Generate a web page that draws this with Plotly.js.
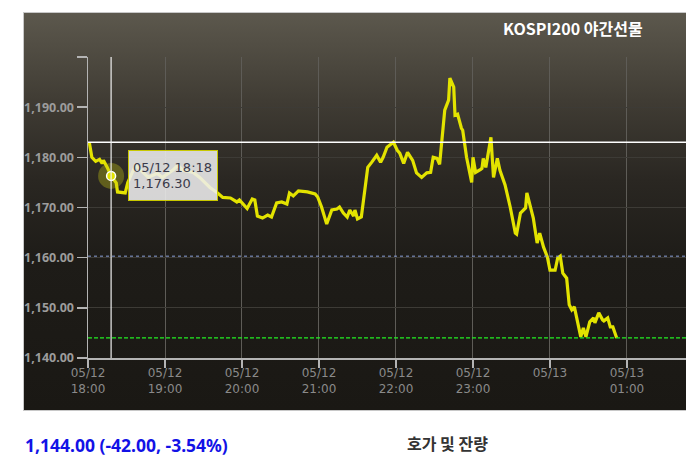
<!DOCTYPE html>
<html>
<head>
<meta charset="utf-8">
<script src="https://cdn.plot.ly/plotly-3.0.1.min.js"></script>
<style>
  html, body { margin:0; padding:0; background:#ffffff; }
  #wrap { position:relative; width:686px; height:460px; overflow:hidden; }
  #bg { position:absolute; left:23px; top:12px; width:663px; height:397px;
        border-top:1px solid #c8c8c8; border-left:1px solid #c8c8c8; border-bottom:1px solid #c8c8c8;
        background:linear-gradient(to bottom, #5c584d 0%, #403c34 22%, #2a2722 42%, #1e1c18 62%, #1a1814 100%); }
  #chart { position:absolute; left:0; top:0; width:686px; height:460px; }
</style>
</head>
<body>
<div id="wrap">
  <div id="bg"></div>
  <div id="chart"></div>
</div>
<script>
// ---- data ----
const times = ["18:01","18:03","18:06","18:09","18:11","18:12","18:15","18:18","18:22","18:23",
  "18:29","18:31","18:37","18:41","18:47","18:54","18:58","19:06","19:10","19:14",
  "19:22","19:27","19:35","19:41","19:45","19:51","19:56","19:58","20:04","20:08",
  "20:10","20:12","20:16","20:20","20:23","20:27","20:31","20:35","20:37","20:40",
  "20:44","20:51","20:57","20:59","21:02","21:06","21:10","21:14","21:16","21:19",
  "21:22","21:24","21:27","21:28","21:30","21:33","21:38","21:41","21:45","21:48",
  "21:50","21:53","21:55","21:58","22:01","22:03","22:06","22:09","22:13","22:16",
  "22:20","22:24","22:27","22:29","22:32","22:34","22:38","22:41","22:42","22:45",
  "22:46","22:48","22:51","22:52","22:55","22:59","23:00","23:02","23:06","23:07",
  "23:08","23:10","23:14","23:16","23:19","23:21","23:25","23:29","23:33","23:34",
  "23:37","23:41","23:42","23:45","23:47","23:50","23:52","23:55","23:58","00:00",
  "00:04","00:06","00:08","00:10","00:13","00:15","00:17","00:19","00:22","00:24",
  "00:26","00:28","00:31","00:34","00:35","00:38","00:41","00:42","00:45","00:47",
  "00:49","00:52"];
const prices = [1183.0,1180.0,1179.2,1179.6,1178.8,1179.4,1178.0,1176.3,1174.9,1173.1,
  1172.9,1175.0,1178.4,1177.4,1176.0,1176.8,1176.0,1177.4,1178.4,1177.4,
  1177.0,1176.0,1174.0,1172.9,1172.0,1171.9,1171.1,1171.5,1169.8,1171.7,
  1171.5,1168.3,1167.9,1168.5,1168.1,1170.9,1171.1,1170.7,1172.9,1172.3,
  1173.3,1173.1,1172.7,1172.1,1170.1,1166.7,1169.5,1169.7,1170.1,1168.9,
  1168.1,1169.5,1168.3,1169.5,1167.7,1168.1,1178.0,1179.0,1180.4,1179.0,
  1180.0,1182.0,1182.4,1183.0,1181.4,1180.8,1178.8,1181.0,1179.4,1176.9,
  1176.0,1176.9,1177.0,1180.0,1179.8,1178.6,1189.4,1191.4,1195.8,1194.0,
  1188.4,1188.6,1185.8,1185.4,1180.0,1175.0,1180.0,1177.0,1177.6,1177.8,
  1179.8,1178.0,1184.0,1176.0,1179.8,1177.4,1174.5,1170.1,1164.9,1164.7,
  1168.9,1169.9,1172.9,1169.5,1167.9,1162.9,1164.9,1162.1,1160.1,1157.5,
  1157.5,1159.9,1160.3,1156.9,1155.9,1150.6,1149.6,1150.2,1147.0,1144.2,
  1146.0,1144.2,1147.2,1148.0,1147.0,1149.0,1147.6,1147.4,1148.0,1146.2,
  1146.2,1144.0];

const cursorTime = "18:18";
const cursorValue = 1176.30;
const whiteLevel = 1183.0;
const blueLevel = 1160.3;
const greenLevel = 1144.0;

const hourTicks = ["18:00","19:00","20:00","21:00","22:00","23:00","00:00","01:00"];
const hourLabels = ["05/12<br>18:00","05/12<br>19:00","05/12<br>20:00","05/12<br>21:00",
                    "05/12<br>22:00","05/12<br>23:00","05/13<br> ","05/13<br>01:00"];
const yTicks = [1140,1150,1160,1170,1180,1190,1200];
const yLabels = ["1,140.00","1,150.00","1,160.00","1,170.00","1,180.00","1,190.00",""];
const titleText = "KOSPI200 야간선물";
const priceText = "1,144.00 (-42.00, -3.54%)";
const sideText = "호가 및 잔량";
const rangeStart = "18:00", rangeEnd = "01:46";

function toDate(t) {
  const h = parseInt(t.slice(0,2), 10);
  return (h >= 12 ? "2022-05-12 " : "2022-05-13 ") + t;
}
const xs = times.map(toDate);
const xStart = toDate(rangeStart), xEnd = toDate(rangeEnd);
const cx = toDate(cursorTime);

const traces = [
  { x: xs, y: prices, type:"scatter", mode:"lines",
    line:{color:"#e3e300", width:3.2}, hoverinfo:"skip" },
  { x:[cx], y:[cursorValue], type:"scatter", mode:"markers",
    marker:{size:26, color:"rgba(200,200,20,0.35)"}, hoverinfo:"skip" },
  { x:[cx], y:[cursorValue], type:"scatter", mode:"markers",
    marker:{size:9, color:"#e3e300", line:{color:"#ffffff", width:1.5}}, hoverinfo:"skip" }
];

const layout = {
  width:686, height:460,
  margin:{l:88, r:0, t:57, b:102},
  paper_bgcolor:"rgba(0,0,0,0)", plot_bgcolor:"rgba(0,0,0,0)",
  showlegend:false,
  font:{family:"Noto Sans, Noto Sans CJK KR, sans-serif"},
  xaxis:{
    type:"date", range:[xStart, xEnd],
    tickvals: hourTicks.map(toDate), ticktext: hourLabels,
    showgrid:true, gridcolor:"#5e5c57", gridwidth:1,
    showline:true, linecolor:"#b4b4b4", linewidth:1.5,
    ticks:"outside", ticklen:8, tickcolor:"#b4b4b4", tickwidth:1.5,
    ticklabelstandoff:-5,
    tickfont:{size:12, color:"#8a8a8a", family:"DejaVu Sans, sans-serif"},
    zeroline:false, fixedrange:true
  },
  yaxis:{
    range:[1140,1200], tickvals:yTicks, ticktext:yLabels,
    showgrid:true, gridcolor:"#3d3b36", gridwidth:1,
    showline:true, linecolor:"#b4b4b4", linewidth:1.5,
    ticks:"outside", ticklen:10, tickcolor:"#b4b4b4", tickwidth:1.5,
    ticklabelstandoff:0,
    tickfont:{size:12.5, color:"#9c9c9c", family:"Noto Sans, sans-serif", weight:"bold"},
    zeroline:false, fixedrange:true
  },
  shapes:[
    { type:"line", xref:"paper", x0:0, x1:1, yref:"y", y0:whiteLevel, y1:whiteLevel,
      line:{color:"#ffffff", width:1.5} },
    { type:"line", xref:"paper", x0:0, x1:1, yref:"y", y0:blueLevel, y1:blueLevel,
      line:{color:"#8aa0d8", width:1, dash:"dot"} },
    { type:"line", xref:"paper", x0:0, x1:1, yref:"y", y0:greenLevel, y1:greenLevel,
      line:{color:"#22f022", width:1.2, dash:"4px,2px"} },
    { type:"line", xref:"x", x0:cx, x1:cx, yref:"paper", y0:0, y1:1,
      line:{color:"#f0f0f0", width:1.2} }
  ],
  annotations:[
    { text:"<b>"+titleText+"</b>", xref:"paper", yref:"paper", x:0.932, y:1.097,
      xanchor:"right", yanchor:"middle", showarrow:false,
      font:{size:16, color:"#ffffff", family:"Noto Sans CJK KR, sans-serif"} },
    { text:"05/12 18:18<br>1,176.30", xref:"x", yref:"y", x:cx, y:cursorValue,
      xanchor:"left", yanchor:"middle", xshift:17, showarrow:false, align:"left",
      width:80, height:41, borderpad:4,
      bgcolor:"rgba(238,238,238,0.88)", bordercolor:"#c8c800", borderwidth:1,
      font:{size:13, color:"#3a3a4a", family:"DejaVu Sans, sans-serif"} },
    { text:"<b>"+priceText+"</b>", xref:"paper", yref:"paper", x:-0.109, y:-0.289,
      xanchor:"left", yanchor:"middle", showarrow:false,
      font:{size:17.5, color:"#1212e6", family:"Noto Sans, sans-serif"} },
    { text:"<b>"+sideText+"</b>", xref:"paper", yref:"paper", x:0.53, y:-0.282,
      xanchor:"left", yanchor:"middle", showarrow:false,
      font:{size:16, color:"#333333", family:"Noto Sans CJK KR, sans-serif"} }
  ]
};

Plotly.newPlot("chart", traces, layout, {staticPlot:true, displayModeBar:false});
</script>
</body>
</html>
